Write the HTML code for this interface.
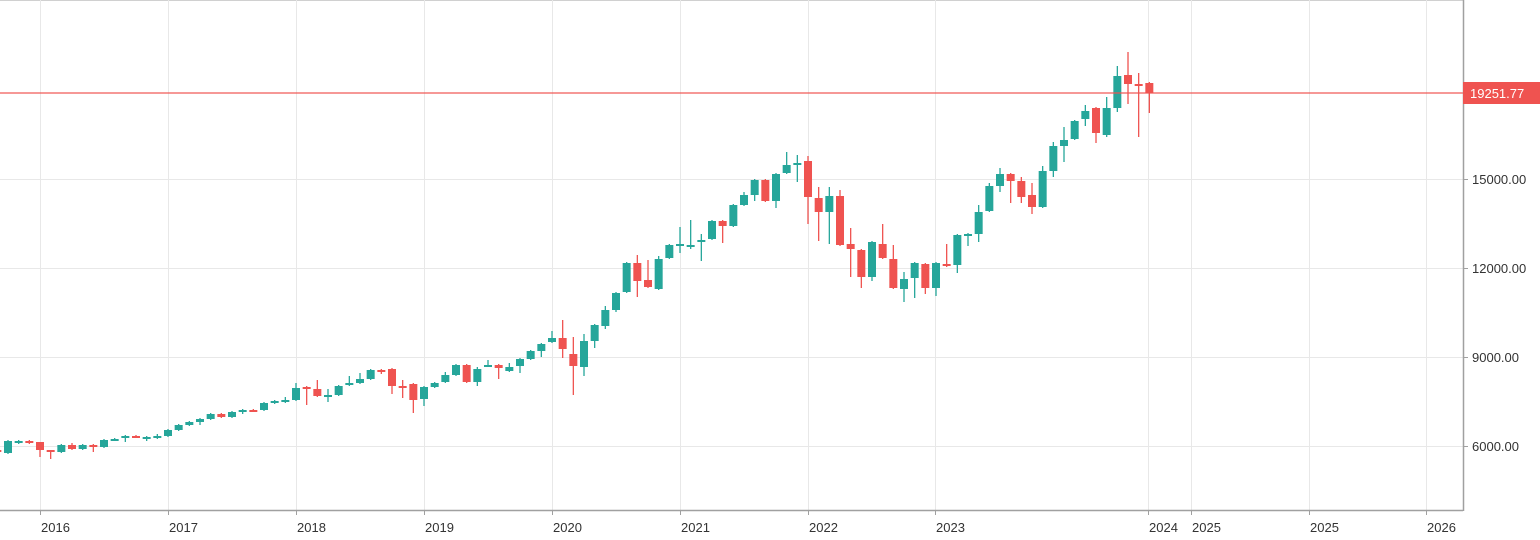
<!DOCTYPE html>
<html><head><meta charset="utf-8"><style>
html,body{margin:0;padding:0;background:#fff;}
body{width:1540px;height:540px;overflow:hidden;position:relative;font-family:"Liberation Sans",sans-serif;}
svg{position:absolute;left:0;top:0;}
</style></head><body>
<svg id="s" width="1540" height="540" xmlns="http://www.w3.org/2000/svg">
<rect x="0" y="0" width="1540" height="540" fill="#fff"/>
<line x1="0" y1="0.5" x2="1463" y2="0.5" stroke="#d0d0d0"/>
<g stroke="#e8e8e8" stroke-width="1">
<line x1="0" y1="179.5" x2="1463" y2="179.5"/>
<line x1="0" y1="268.5" x2="1463" y2="268.5"/>
<line x1="0" y1="357.5" x2="1463" y2="357.5"/>
<line x1="0" y1="446.5" x2="1463" y2="446.5"/>
<line x1="40.5" y1="0" x2="40.5" y2="510"/>
<line x1="168.5" y1="0" x2="168.5" y2="510"/>
<line x1="296.5" y1="0" x2="296.5" y2="510"/>
<line x1="424.5" y1="0" x2="424.5" y2="510"/>
<line x1="552.5" y1="0" x2="552.5" y2="510"/>
<line x1="680.5" y1="0" x2="680.5" y2="510"/>
<line x1="808.5" y1="0" x2="808.5" y2="510"/>
<line x1="935.5" y1="0" x2="935.5" y2="510"/>
<line x1="1148.5" y1="0" x2="1148.5" y2="510"/>
<line x1="1191.5" y1="0" x2="1191.5" y2="510"/>
<line x1="1309.5" y1="0" x2="1309.5" y2="510"/>
<line x1="1426.5" y1="0" x2="1426.5" y2="510"/>
</g>
<g id="c"></g>
<line x1="0" y1="93" x2="1463" y2="93" stroke="#ef5350" stroke-opacity="0.8" stroke-width="1.5"/>
<line x1="0" y1="510.5" x2="1463" y2="510.5" stroke="#a0a0a0" stroke-width="1.5"/>
<line x1="1463.5" y1="0" x2="1463.5" y2="511" stroke="#a0a0a0" stroke-width="1.5"/>
<g stroke="#a0a0a0">
<line x1="40.5" y1="510" x2="40.5" y2="515"/><line x1="168.5" y1="510" x2="168.5" y2="515"/>
<line x1="296.5" y1="510" x2="296.5" y2="515"/><line x1="424.5" y1="510" x2="424.5" y2="515"/>
<line x1="552.5" y1="510" x2="552.5" y2="515"/><line x1="680.5" y1="510" x2="680.5" y2="515"/>
<line x1="808.5" y1="510" x2="808.5" y2="515"/><line x1="935.5" y1="510" x2="935.5" y2="515"/>
<line x1="1148.5" y1="510" x2="1148.5" y2="515"/><line x1="1191.5" y1="510" x2="1191.5" y2="515"/>
<line x1="1309.5" y1="510" x2="1309.5" y2="515"/><line x1="1426.5" y1="510" x2="1426.5" y2="515"/>
<line x1="1463" y1="179.5" x2="1468" y2="179.5"/><line x1="1463" y1="268.5" x2="1468" y2="268.5"/>
<line x1="1463" y1="357.5" x2="1468" y2="357.5"/><line x1="1463" y1="446.5" x2="1468" y2="446.5"/>
</g>
<g font-size="13" fill="#333">
<text x="41" y="532">2016</text><text x="169" y="532">2017</text><text x="297" y="532">2018</text>
<text x="425" y="532">2019</text><text x="553" y="532">2020</text><text x="681" y="532">2021</text>
<text x="809" y="532">2022</text><text x="936" y="532">2023</text><text x="1149" y="532">2024</text>
<text x="1192" y="532">2025</text><text x="1310" y="532">2025</text><text x="1427" y="532">2026</text>
<text x="1472" y="184">15000.00</text><text x="1472" y="273">12000.00</text>
<text x="1472" y="362">9000.00</text><text x="1472" y="451">6000.00</text>
</g>
<rect x="1463" y="82" width="77" height="22" fill="#ef5350"/>
<text x="1470" y="98" font-size="13" fill="#fff">19251.77</text>
</svg>
<script>
var d=[[450,452],[453,441,440,454],[442,441,440,444],[441,442,440,444],[442,450,442,457],[450,452,450,459],[452,445],[445,449,443,450],[449,445],[445,447,444,452],[447,440],[440,439],[438,436,435,442],[436,437],[438,437,436,441],[437,436,434,439],[436,430],[430,425],[425,422],[422,419,418,425],[419,414],[414,417],[417,412],[412,410,409,414],[410,411],[410,403],[403,401],[401,400,397,403],[400,388,383,401],[387,388,386,405],[389,396,380,397],[396,395,389,402],[395,386],[385,383,376,386],[383,379,373,384],[379,370],[370,371,369,374],[369,386,368,394],[386,387,380,398],[384,400,383,413],[399,387,386,406],[387,383],[382,375,372,383],[375,365],[365,382],[382,369,367,386],[366,365,360,367],[365,368,364,379],[371,367,363,372],[366,359,358,373],[359,351],[351,344,343,357],[342,338,331,343],[338,349,320,358],[354,366,337,395],[367,341,334,376],[341,325,324,348],[326,310,306,329],[310,293,292,312],[292,263,262,293],[263,281,255,297],[280,287,260,288],[289,259,256,290],[258,245,244,259],[245,244,227,253],[246,245,220,249],[242,240,234,261],[239,221,220,240],[221,226,220,243],[226,205,204,227],[205,195,192,206],[195,180,179,201],[180,201,179,202],[201,174,173,208],[173,165,152,174],[164,163,155,182],[161,197,156,224],[198,212,187,241],[212,196,187,244],[196,245,190,246],[244,249,228,277],[250,277,249,288],[277,242,241,281],[244,258,224,259],[259,288,245,289],[289,279,272,302],[278,263,262,298],[264,288,263,294],[288,263,262,296],[264,265,244,267],[265,235,234,273],[236,234,233,246],[234,212,205,242],[211,186,183,212],[186,174,168,192],[174,181,173,203],[181,197,177,203],[195,207,183,214],[207,171,166,208],[171,146,142,177],[146,140,127,162],[139,121,120,140],[119,111,105,126],[108,133,107,143],[135,108,97,137],[108,76,66,112],[75,84,52,104],[84,85,73,137],[83,93,82,113]];
var g=document.getElementById('c'),h='';
for(var i=0;i<d.length;i++){var o=d[i][0],c=d[i][1],hi=d[i].length>2?d[i][2]:Math.min(o,c)-1,lo=d[i].length>2?d[i][3]:Math.max(o,c)+1;
var x=40+(i-4)*10.6667,col=c<o?'#26a69a':'#ef5350';if(c==o)col='#26a69a';
var t=Math.min(o,c),b=Math.max(o,c);if(b-t<2){b=t+2;}
h+='<line x1="'+x+'" y1="'+hi+'" x2="'+x+'" y2="'+lo+'" stroke="'+col+'" stroke-width="1.3"/>';
h+='<rect x="'+(x-4)+'" y="'+t+'" width="8" height="'+(b-t)+'" fill="'+col+'"/>';}
g.innerHTML=h;
</script>
</body></html>
